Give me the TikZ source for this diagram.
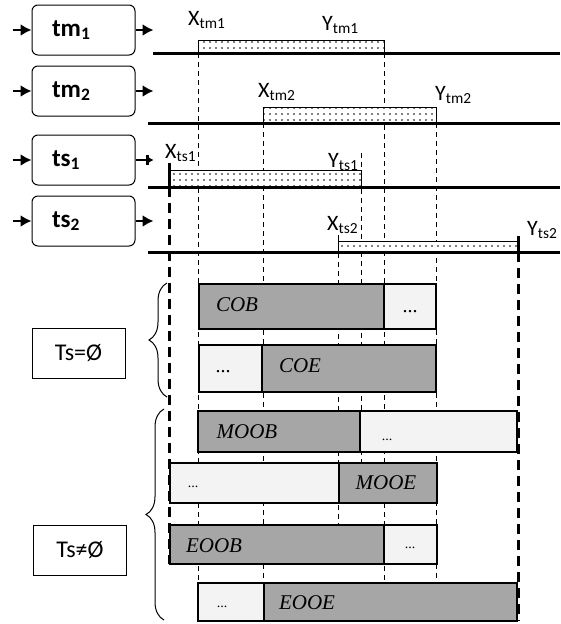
\documentclass[tikz,border=0pt]{standalone}
\usepackage{fontspec}
\setmainfont{Liberation Serif}
\setsansfont{Carlito}
\usetikzlibrary{positioning,arrows.meta,patterns.meta,decorations.pathreplacing}
\definecolor{segdark}{HTML}{A6A6A6}
\definecolor{seglight}{HTML}{F2F3F2}
\tikzset{
  proc/.style={draw,line width=1pt,rounded corners=6pt,minimum width=103pt,minimum height=50pt,
    text width=63pt,inner xsep=20pt,align=left,font=\sffamily\bfseries\fontsize{25}{27}\selectfont},
  setbox/.style={draw,line width=1pt,minimum width=93pt,minimum height=50pt,font=\sffamily\fontsize{24}{26}\selectfont},
  flow/.style={-{Latex[length=11pt,width=12pt]},line width=2pt},
  axis/.style={line width=3pt},
  interval/.style={draw,line width=1pt,preaction={fill=white},pattern={Dots[distance=6pt,radius=0.8pt]}},
  guide/.style={dash pattern=on 5pt off 4pt,line width=1pt},
  bound/.style={dash pattern=on 10pt off 6pt,line width=3pt},
  known/.style={draw,line width=1.2pt,fill=segdark},
  rest/.style={draw,line width=1.2pt,fill=seglight},
  lbl/.style={font=\sffamily\fontsize{22}{24}\selectfont,inner sep=0pt,anchor=base west},
  seg/.style={font=\itshape\fontsize{21}{23}\selectfont,inner sep=0pt},
  ellip/.style={font=\fontsize{14}{16}\selectfont,inner sep=0pt},
  grp/.style={decorate,decoration={brace,amplitude=18pt},line width=1pt},
}

\begin{document}
\begin{tikzpicture}[x=1pt,y=-1pt]
\useasboundingbox (0,0) rectangle (560,624);

% processes on the left
\node[proc] (tm1) at (83.5,30) {tm\textsubscript{1}};
\node[proc, below=10pt of tm1] (tm2) {tm\textsubscript{2}};
\node[proc, below=18pt of tm2] (ts1) {ts\textsubscript{1}};
\node[proc, below=10pt of ts1] (ts2) {ts\textsubscript{2}};
\foreach \p in {tm1,tm2,ts1,ts2}{
  \coordinate[left=19pt of \p.west] (\p in);
  \draw[flow] (\p in) -- (\p.west);
}
\foreach \p in {tm1,tm2,ts2}{
  \coordinate[right=18pt of \p.east] (\p out);
  \draw[flow] (\p.east) -- (\p out);
}
\coordinate[right=18pt of ts1.east] (ts1 out);
\draw[line width=2pt,-{Bar[width=10pt,line width=2.5pt] Latex[length=5pt,width=6pt]}] (ts1.east) -- (ts1 out);

% guide lines
\draw[guide] (198,53) -- (198,583);
\draw[guide] (263,123) -- (263,583);
\draw[guide] (384,53) -- (384,583);
\draw[guide] (436,123) -- (436,583);
\draw[guide] (338,235) -- (338,525);
\draw[guide] (361,153) -- (361,463);
\draw[bound] (169,187) -- (169,564);
\draw[bound] (518,252) -- (518,621);

% intervals
\draw[interval] (198,53) rectangle (384,40);
\draw[interval] (263,123) rectangle (436,107);
\draw[interval] (169,187) rectangle (361,170);
\draw[interval] (338,252) rectangle (518,241);
\draw[line width=1pt] (338,241) -- (338,235);
\draw[line width=3pt] (169,163) -- (169,187);
\draw[line width=3pt] (518,236) -- (518,252);

% time lines
\draw[axis] (153,53) -- (560,53);
\draw[axis] (148,123) -- (560,123);
\draw[axis] (148,187) -- (560,187);
\draw[axis] (148,252) -- (560,252);

\node[lbl] (Xtm1) at (188,25) {X\textsubscript{tm1}};
\node[lbl] (Ytm1) at (322,30) {Y\textsubscript{tm1}};
\node[lbl] (Xtm2) at (258,97) {X\textsubscript{tm2}};
\node[lbl] (Ytm2) at (435,100) {Y\textsubscript{tm2}};
\node[lbl] (Xts1) at (165,158) {X\textsubscript{ts1}};
\node[lbl] (Yts1) at (328,167) {Y\textsubscript{ts1}};
\node[lbl] (Xts2) at (327,230) {X\textsubscript{ts2}};
\node[lbl] (Yts2) at (527,235) {Y\textsubscript{ts2}};

% cases
\draw[known] (199,284) rectangle (384,329);
\draw[rest] (384,284) rectangle (436,329);
\draw[rest] (199,345) rectangle (262,392);
\draw[known] (262,345) rectangle (436,392);
\draw[known] (198,411) rectangle (360,452);
\draw[rest] (360,411) rectangle (517,452);
\draw[rest] (170,463) rectangle (339,503);
\draw[known] (339,463) rectangle (437,503);
\draw[known] (170,525) rectangle (384,564);
\draw[rest] (384,525) rectangle (437,564);
\draw[rest] (198,583) rectangle (264,621);
\draw[known] (264,583) rectangle (517,621);

\node[seg] (cob) at (237,305) {COB};
\node[seg] (coe) at (300,366) {COE};
\node[seg] (moob) at (247,432) {MOOB};
\node[seg] (mooe) at (386,483) {MOOE};
\node[seg] (eoob) at (214,546) {EOOB};
\node[seg] (eooe) at (307,603) {EOOE};
\node[ellip, font=\fontsize{20}{22}\selectfont] (cobr) at (410,312) {...};
\node[ellip, font=\fontsize{20}{22}\selectfont] (coel) at (223,372) {...};
\node[ellip] (moobr) at (387,440) {...};
\node[ellip] (mooel) at (193,487) {...};
\node[ellip] (eoobr) at (410,548) {...};
\node[ellip] (eooel) at (222,607) {...};

% groups
\node[setbox] (empty) at (78.5,353) {Ts=Ø};
\node[setbox] (nonempty) at (80,550.5) {Ts≠Ø};
\draw[grp] (167,397) -- (167,283);
\draw[grp] (164,620) -- (164,409);
\end{tikzpicture}
\end{document}
